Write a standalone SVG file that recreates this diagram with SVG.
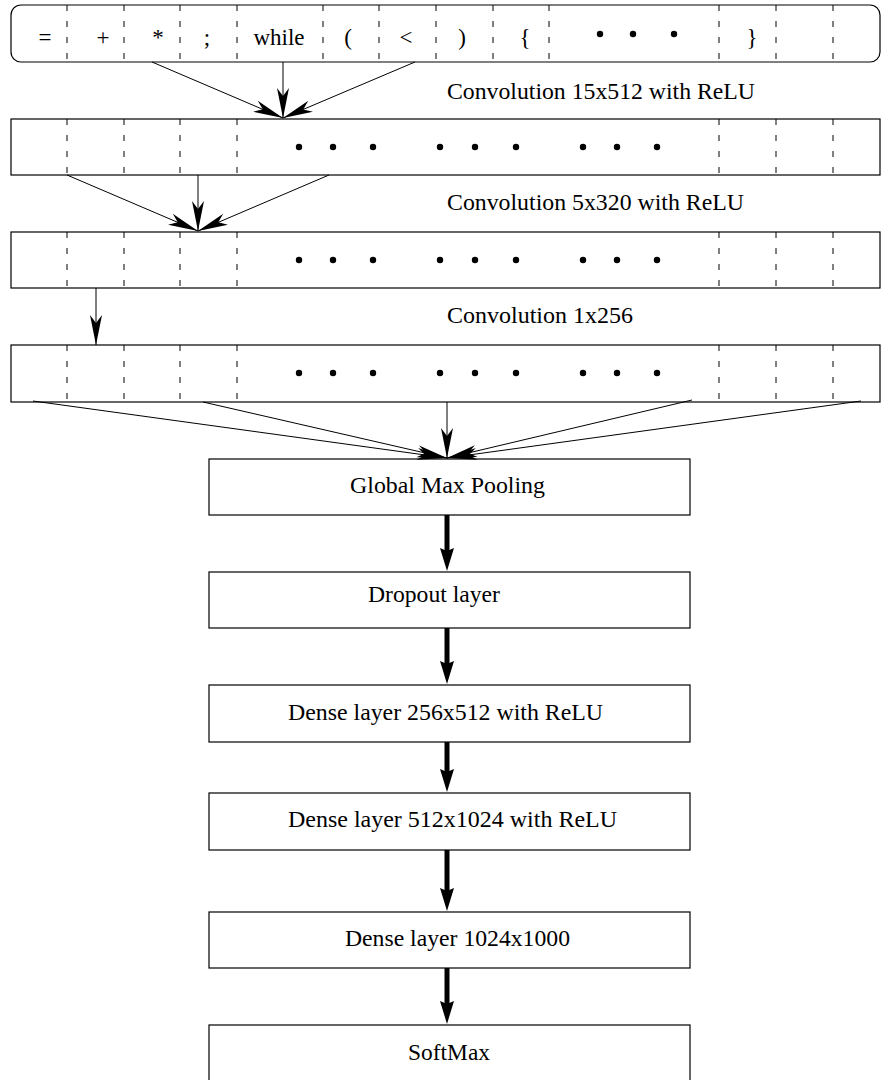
<svg xmlns="http://www.w3.org/2000/svg" width="881" height="1080" viewBox="0 0 881 1080">
<defs>
<style>
.row{fill:#fff;stroke:#000;stroke-width:1.2}
.dash{stroke:#000;stroke-width:1;stroke-dasharray:6 10}
.dot{fill:#000}
.t{font-family:"Liberation Serif","Times New Roman",serif;font-size:23px;fill:#000}
.tm{font-family:"Liberation Serif","Times New Roman",serif;font-size:23px;fill:#000;text-anchor:middle}
.box{fill:#fff;stroke:#000;stroke-width:1.2}
.thin{stroke:#000;stroke-width:1;fill:none;marker-end:url(#ah)}
.thick{stroke:#000;stroke-width:5;fill:none;marker-end:url(#ahb)}
</style>
<marker id="ah" viewBox="-30 -6 30 12" markerWidth="30" markerHeight="12" refX="0" refY="0" orient="auto" markerUnits="userSpaceOnUse" overflow="visible">
<path d="M0,0 L-30,-6 L-22,0 L-30,6 Z" fill="#000"/>
</marker>
<marker id="ahb" viewBox="0 -7 23 14" markerWidth="23" markerHeight="14" refX="3" refY="0" orient="auto" markerUnits="userSpaceOnUse" overflow="visible">
<path d="M0,-7 L23,0 L0,7 L3,0 Z" fill="#000"/>
</marker>
</defs>
<rect width="881" height="1080" fill="#fff"/>

<g id="input-row">
<rect class="row" x="11" y="5" width="869" height="57" rx="10" ry="10"/>
<g>
<line class="dash" x1="67" y1="5" x2="67" y2="62"/>
<line class="dash" x1="124" y1="5" x2="124" y2="62"/>
<line class="dash" x1="180" y1="5" x2="180" y2="62"/>
<line class="dash" x1="237" y1="5" x2="237" y2="62"/>
<line class="dash" x1="323" y1="5" x2="323" y2="62"/>
<line class="dash" x1="379" y1="5" x2="379" y2="62"/>
<line class="dash" x1="436" y1="5" x2="436" y2="62"/>
<line class="dash" x1="493" y1="5" x2="493" y2="62"/>
<line class="dash" x1="549" y1="5" x2="549" y2="62"/>
<line class="dash" x1="719" y1="5" x2="719" y2="62"/>
<line class="dash" x1="776" y1="5" x2="776" y2="62"/>
<line class="dash" x1="833" y1="5" x2="833" y2="62"/>
</g>
<text class="tm" x="45" y="45">=</text>
<text class="tm" x="103" y="45">+</text>
<text class="tm" x="158" y="45">*</text>
<text class="tm" x="207" y="45">;</text>
<text class="tm" x="279" y="45">while</text>
<text class="tm" x="348" y="45">(</text>
<text class="tm" x="406" y="45">&lt;</text>
<text class="tm" x="462" y="45">)</text>
<text class="tm" x="525" y="45">{</text>
<text class="tm" x="752" y="45">}</text>
<circle class="dot" cx="600" cy="34" r="3.2"/>
<circle class="dot" cx="633" cy="34" r="3.2"/>
<circle class="dot" cx="674" cy="34" r="3.2"/>
</g>

<g id="conv1-row">
<rect class="row" x="11" y="119" width="869" height="56"/>
<line class="dash" x1="67" y1="119" x2="67" y2="175"/>
<line class="dash" x1="124" y1="119" x2="124" y2="175"/>
<line class="dash" x1="180" y1="119" x2="180" y2="175"/>
<line class="dash" x1="237" y1="119" x2="237" y2="175"/>
<line class="dash" x1="719" y1="119" x2="719" y2="175"/>
<line class="dash" x1="776" y1="119" x2="776" y2="175"/>
<line class="dash" x1="833" y1="119" x2="833" y2="175"/>
<circle class="dot" cx="299" cy="147" r="3.2"/>
<circle class="dot" cx="333" cy="147" r="3.2"/>
<circle class="dot" cx="373" cy="147" r="3.2"/>
<circle class="dot" cx="440" cy="147" r="3.2"/>
<circle class="dot" cx="475" cy="147" r="3.2"/>
<circle class="dot" cx="516" cy="147" r="3.2"/>
<circle class="dot" cx="583" cy="147" r="3.2"/>
<circle class="dot" cx="617" cy="147" r="3.2"/>
<circle class="dot" cx="657" cy="147" r="3.2"/>
</g>

<g id="conv2-row">
<rect class="row" x="11" y="232" width="869" height="56"/>
<line class="dash" x1="67" y1="232" x2="67" y2="288"/>
<line class="dash" x1="124" y1="232" x2="124" y2="288"/>
<line class="dash" x1="180" y1="232" x2="180" y2="288"/>
<line class="dash" x1="237" y1="232" x2="237" y2="288"/>
<line class="dash" x1="719" y1="232" x2="719" y2="288"/>
<line class="dash" x1="776" y1="232" x2="776" y2="288"/>
<line class="dash" x1="833" y1="232" x2="833" y2="288"/>
<circle class="dot" cx="299" cy="260" r="3.2"/>
<circle class="dot" cx="333" cy="260" r="3.2"/>
<circle class="dot" cx="373" cy="260" r="3.2"/>
<circle class="dot" cx="440" cy="260" r="3.2"/>
<circle class="dot" cx="475" cy="260" r="3.2"/>
<circle class="dot" cx="516" cy="260" r="3.2"/>
<circle class="dot" cx="583" cy="260" r="3.2"/>
<circle class="dot" cx="617" cy="260" r="3.2"/>
<circle class="dot" cx="657" cy="260" r="3.2"/>
</g>

<g id="conv3-row">
<rect class="row" x="11" y="345" width="869" height="57"/>
<line class="dash" x1="67" y1="345" x2="67" y2="402"/>
<line class="dash" x1="124" y1="345" x2="124" y2="402"/>
<line class="dash" x1="180" y1="345" x2="180" y2="402"/>
<line class="dash" x1="237" y1="345" x2="237" y2="402"/>
<line class="dash" x1="719" y1="345" x2="719" y2="402"/>
<line class="dash" x1="776" y1="345" x2="776" y2="402"/>
<line class="dash" x1="833" y1="345" x2="833" y2="402"/>
<circle class="dot" cx="299" cy="373" r="3.2"/>
<circle class="dot" cx="333" cy="373" r="3.2"/>
<circle class="dot" cx="373" cy="373" r="3.2"/>
<circle class="dot" cx="440" cy="373" r="3.2"/>
<circle class="dot" cx="475" cy="373" r="3.2"/>
<circle class="dot" cx="516" cy="373" r="3.2"/>
<circle class="dot" cx="583" cy="373" r="3.2"/>
<circle class="dot" cx="617" cy="373" r="3.2"/>
<circle class="dot" cx="657" cy="373" r="3.2"/>
</g>

<g id="labels">
<text class="t" x="447" y="99" textLength="308" lengthAdjust="spacingAndGlyphs">Convolution 15x512 with ReLU</text>
<text class="t" x="447" y="210" textLength="297" lengthAdjust="spacingAndGlyphs">Convolution 5x320 with ReLU</text>
<text class="t" x="447" y="323" textLength="186" lengthAdjust="spacingAndGlyphs">Convolution 1x256</text>
</g>

<g id="global-max-pooling">
<rect class="box" x="209" y="459" width="481" height="56"/>
<text class="t" x="350" y="493" textLength="195" lengthAdjust="spacingAndGlyphs">Global Max Pooling</text>
</g>
<g id="dropout">
<rect class="box" x="209" y="572" width="481" height="56"/>
<text class="t" x="368" y="602" textLength="132" lengthAdjust="spacingAndGlyphs">Dropout layer</text>
</g>
<g id="dense1">
<rect class="box" x="209" y="685" width="481" height="57"/>
<text class="t" x="288" y="720" textLength="315" lengthAdjust="spacingAndGlyphs">Dense layer 256x512 with ReLU</text>
</g>
<g id="dense2">
<rect class="box" x="209" y="793" width="481" height="57"/>
<text class="t" x="288" y="827" textLength="329" lengthAdjust="spacingAndGlyphs">Dense layer 512x1024 with ReLU</text>
</g>
<g id="dense3">
<rect class="box" x="209" y="912" width="481" height="56"/>
<text class="t" x="345" y="946" textLength="225" lengthAdjust="spacingAndGlyphs">Dense layer 1024x1000</text>
</g>
<g id="softmax">
<rect class="box" x="209" y="1025" width="481" height="60"/>
<text class="t" x="408" y="1060" textLength="82" lengthAdjust="spacingAndGlyphs">SoftMax</text>
</g>

<g id="connectors">
<line class="thin" x1="152" y1="62" x2="283" y2="118"/>
<line class="thin" x1="283" y1="62" x2="283" y2="118"/>
<line class="thin" x1="415" y1="62" x2="283" y2="118"/>
<line class="thin" x1="67" y1="175" x2="198" y2="231"/>
<line class="thin" x1="198" y1="175" x2="198" y2="231"/>
<line class="thin" x1="329" y1="175" x2="198" y2="231"/>
<line class="thin" x1="96" y1="288" x2="96" y2="345"/>
<line class="thin" x1="33" y1="401" x2="447" y2="458"/>
<line class="thin" x1="203" y1="402" x2="447" y2="458"/>
<line class="thin" x1="447" y1="402" x2="447" y2="458"/>
<line class="thin" x1="692" y1="400" x2="447" y2="458"/>
<line class="thin" x1="861" y1="401" x2="447" y2="458"/>
<line class="thick" x1="447" y1="515" x2="447" y2="551"/>
<line class="thick" x1="447" y1="628" x2="447" y2="664"/>
<line class="thick" x1="447" y1="742" x2="447" y2="772"/>
<line class="thick" x1="447" y1="850" x2="447" y2="891"/>
<line class="thick" x1="447" y1="968" x2="447" y2="1004"/>
</g>
</svg>
